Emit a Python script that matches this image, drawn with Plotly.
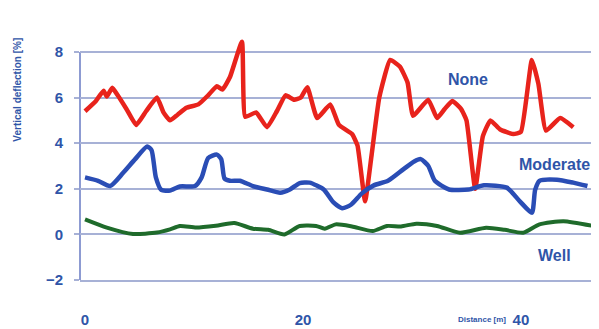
# Vertical deflection along the distance for three cases (None / Moderate / Well)
import plotly.graph_objs as go

# distance [m] and deflection [%]
none_x = [0, 1.0, 1.7, 2.0, 2.5, 3.0, 3.8, 4.7, 5.6, 6.6, 7.2, 7.8, 8.5, 9.3, 10.4,
          11.3, 12.1, 12.6, 13.3, 14.4, 14.7, 15.7, 16.7, 17.6, 18.4, 19.2, 19.8,
          20.4, 21.3, 22.5, 23.3, 24.5, 25.0, 25.7, 26.3, 27.0, 28.0, 28.9, 29.6,
          30.1, 31.5, 32.3, 33.0, 33.7, 34.5, 35.0, 35.8, 36.5, 37.2, 38.1, 39.3,
          40.0, 41.0, 41.6, 42.3, 43.6, 44.8]
none_y = [5.4, 5.85, 6.3, 6.05, 6.43, 6.1, 5.5, 4.8, 5.4, 6.0, 5.35, 5.0, 5.25, 5.55, 5.7,
          6.1, 6.5, 6.35, 6.9, 8.45, 5.15, 5.35, 4.7, 5.4, 6.1, 5.9, 6.0,
          6.45, 5.1, 5.7, 4.8, 4.4, 3.9, 1.45, 3.5, 6.0, 7.65, 7.35, 6.65,
          5.2, 5.9, 5.1, 5.5, 5.85, 5.5, 5.0, 2.0, 4.3, 5.0, 4.6, 4.4,
          4.5, 7.65, 6.6, 4.55, 5.1, 4.7]

moderate_x = [0, 1.2, 2.3, 3.5, 4.6, 5.7, 6.1, 6.5, 7.0, 7.8, 8.7, 10.1, 10.7, 11.3,
              12.1, 12.5, 12.8, 13.3, 14.2, 15.4, 16.7, 17.9, 18.8, 19.7, 20.6, 21.9,
              22.8, 23.6, 24.4, 25.4, 26.5, 27.8, 29.2, 30.2, 30.8, 31.5, 32.1, 33.4,
              35.2, 36.6, 38.7, 39.9, 41.0, 41.3, 41.7, 43.3, 44.8, 46.1]
moderate_y = [2.5, 2.35, 2.12, 2.7, 3.3, 3.85, 3.7, 2.5, 1.95, 1.92, 2.1, 2.12, 2.5, 3.35,
              3.5, 3.3, 2.45, 2.35, 2.35, 2.12, 1.97, 1.83, 1.97, 2.25, 2.27, 1.97,
              1.4, 1.15, 1.3, 1.8, 2.15, 2.35, 2.85, 3.2, 3.3, 3.0, 2.35, 1.97,
              1.97, 2.15, 2.05, 1.45, 0.95, 1.95, 2.35, 2.4, 2.27, 2.12]

well_x = [0, 2.0, 4.4, 6.6, 7.8, 8.7, 10.2, 12.0, 13.7, 15.4, 16.8, 18.3, 19.7, 21.2,
          22.0, 23.0, 24.5, 26.4, 27.7, 29.0, 30.4, 32.3, 34.4, 36.8, 38.5, 40.2,
          41.7, 43.9, 46.6]
well_y = [0.66, 0.3, 0.02, 0.08, 0.22, 0.37, 0.3, 0.38, 0.5, 0.25, 0.2, 0.0, 0.37, 0.37,
          0.25, 0.44, 0.35, 0.15, 0.37, 0.35, 0.47, 0.37, 0.07, 0.29, 0.2, 0.07,
          0.44, 0.58, 0.37]

x_ticks = [0, 20, 40]
y_ticks = [-2, 0, 2, 4, 6, 8]

text_col = '#2f55a8'
grid_col = '#a7b1d6'
font = dict(family='Liberation Sans', size=15, color=text_col, weight='bold')

data = [
    go.Scatter(x=none_x, y=none_y, mode='lines', name='None',
               line=dict(color='#e8231c', width=4.5, shape='spline', smoothing=0.4)),
    go.Scatter(x=moderate_x, y=moderate_y, mode='lines', name='Moderate',
               line=dict(color='#2a4db5', width=4.5, shape='spline', smoothing=0.6)),
    go.Scatter(x=well_x, y=well_y, mode='lines', name='Well',
               line=dict(color='#1f6b2b', width=4, shape='spline', smoothing=0.6)),
]

# label helper
def label(x, y, text, size, **kw):
    d = dict(x=x, y=y, text=text, showarrow=False, xanchor='center', yanchor='middle',
             font=dict(font, size=size))
    d.update(kw)
    return d

# the page body has an 8px margin, so the figure is 8px smaller than the window
layout = go.Layout(
    width=591, height=321,
    margin=dict(l=72, r=0, t=28, b=49),
    paper_bgcolor='white', plot_bgcolor='white',
    showlegend=False,
    xaxis=dict(range=[-0.46, 47.16], tickvals=x_ticks, showgrid=False, zeroline=False,
               showline=True, linecolor=grid_col, linewidth=2, ticks='',
               tickfont=font, ticklabelstandoff=25, automargin=False),
    # y range a bit above 8 so the peaks are not clipped
    yaxis=dict(range=[-2, 8.7], tickvals=y_ticks, showgrid=True, gridcolor=grid_col,
               gridwidth=2, zeroline=False, showline=False, ticks='outside', ticklen=5,
               tickcolor=grid_col, tickwidth=2, tickfont=font, ticklabelstandoff=8,
               automargin=False),
    # y axis line only from -2 to 8
    shapes=[dict(type='line', xref='paper', yref='y', x0=0, x1=0, y0=-2, y1=8,
                 line=dict(color='#8d9bd2', width=2), layer='below')],
    annotations=[
        label(35.1, 6.8, 'None', 16),
        label(43.1, 3.07, 'Moderate', 16),
        label(43.1, -0.92, 'Well', 16),
        label(0.775, 0, 'Distance [m]', 8, xref='paper', yref='paper', yshift=-39),
        label(0, 0.78, 'Vertical deflection [%]', 10, xref='paper', yref='paper',
              xshift=-62, textangle=-90),
    ],
)

fig = go.Figure(data=data, layout=layout)
fig.write_html('out.html')
